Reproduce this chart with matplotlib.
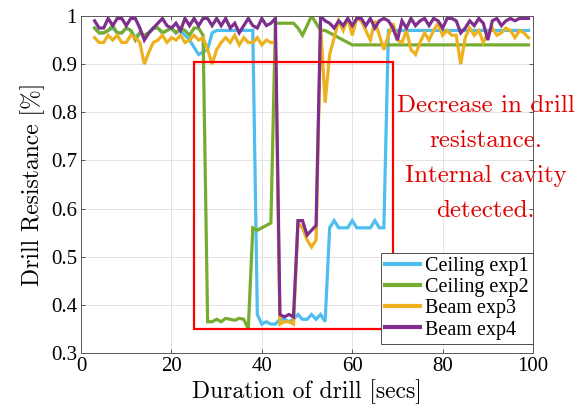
import matplotlib

matplotlib.use('Agg')

import matplotlib.pyplot as plt
import matplotlib.patches as patches
import numpy as np

# time axis, one sample per second
t_secs = np.arange(3, 100)

ceiling_exp1 = [
    0.975, 0.965, 0.965, 0.97, 0.975, 0.965, 0.965, 0.975, 0.97, 0.955,
    0.965, 0.96, 0.965, 0.975, 0.975, 0.965, 0.97, 0.975, 0.965, 0.97,
    0.96, 0.95, 0.935, 0.92, 0.925, 0.93, 0.965, 0.97, 0.97, 0.97,
    0.97, 0.97, 0.97, 0.97, 0.97, 0.97, 0.38, 0.36, 0.365, 0.36,
    0.36, 0.37, 0.37, 0.365, 0.37, 0.38, 0.37, 0.37, 0.38, 0.37,
    0.38, 0.365, 0.56, 0.575, 0.56, 0.56, 0.56, 0.575, 0.56, 0.56,
    0.56, 0.56, 0.575, 0.56, 0.56, 0.97, 0.97, 0.97, 0.97, 0.97,
    0.97, 0.97, 0.97, 0.97, 0.97, 0.97, 0.97, 0.97, 0.97, 0.97,
    0.97, 0.97, 0.97, 0.97, 0.97, 0.97, 0.97, 0.97, 0.97, 0.97,
    0.97, 0.97, 0.97, 0.97, 0.97, 0.97, 0.97,
]
ceiling_exp2 = [
    0.975, 0.965, 0.965, 0.97, 0.98, 0.965, 0.965, 0.975, 0.97, 0.95,
    0.965, 0.96, 0.965, 0.975, 0.975, 0.965, 0.97, 0.975, 0.965, 0.975,
    0.97, 0.96, 0.975, 0.975, 0.96, 0.365, 0.365, 0.37, 0.365, 0.372,
    0.37, 0.368, 0.372, 0.37, 0.35, 0.56, 0.555, 0.56, 0.565, 0.57,
    0.985, 0.985, 0.985, 0.985, 0.985, 0.975, 0.96, 0.98, 1.0, 0.985,
    0.97, 0.97, 0.965, 0.96, 0.955, 0.95, 0.945, 0.94, 0.94, 0.94,
    0.94, 0.94, 0.94, 0.94, 0.94, 0.94, 0.94, 0.94, 0.94, 0.94,
    0.94, 0.94, 0.94, 0.94, 0.94, 0.94, 0.94, 0.94, 0.94, 0.94,
    0.94, 0.94, 0.94, 0.94, 0.94, 0.94, 0.94, 0.94, 0.94, 0.94,
    0.94, 0.94, 0.94, 0.94, 0.94, 0.94, 0.94,
]
beam_exp3 = [
    0.955, 0.945, 0.945, 0.96, 0.95, 0.96, 0.945, 0.945, 0.96, 0.955,
    0.945, 0.90, 0.925, 0.945, 0.95, 0.96, 0.945, 0.955, 0.95, 0.96,
    0.945, 0.95, 0.96, 0.95, 0.955, 0.93, 0.90, 0.93, 0.945, 0.955,
    0.945, 0.96, 0.94, 0.955, 0.945, 0.945, 0.955, 0.94, 0.95, 0.945,
    0.945, 0.36, 0.365, 0.365, 0.36, 0.57, 0.56, 0.535, 0.52, 0.535,
    0.98, 0.82, 0.92, 0.955, 0.99, 0.97, 0.995, 0.96, 0.995, 0.99,
    0.97, 0.95, 0.99, 0.96, 0.93, 0.96, 0.985, 0.95, 0.945, 0.97,
    0.93, 0.92, 0.945, 0.965, 0.95, 0.97, 0.985, 0.96, 0.97, 0.96,
    0.96, 0.90, 0.955, 0.975, 0.96, 0.97, 0.945, 0.965, 0.975, 0.96,
    0.965, 0.975, 0.97, 0.955, 0.97, 0.965, 0.955,
]
beam_exp4 = [
    0.99, 0.975, 0.975, 0.995, 0.98, 0.995, 0.995, 0.98, 0.995, 0.995,
    0.975, 0.95, 0.965, 0.975, 0.985, 0.995, 0.98, 0.975, 0.985, 0.97,
    0.995, 0.98, 0.995, 0.98, 0.995, 0.995, 0.98, 0.995, 0.98, 0.995,
    0.975, 0.985, 0.965, 0.98, 0.995, 0.98, 0.975, 0.995, 0.98, 0.985,
    0.995, 0.38, 0.375, 0.38, 0.375, 0.575, 0.575, 0.545, 0.555, 0.565,
    1.0, 0.99, 0.985, 0.975, 0.99, 0.98, 0.995, 0.98, 0.995, 0.995,
    0.98, 0.995, 0.975, 0.99, 0.995, 0.99, 0.975, 0.95, 0.99, 0.975,
    0.995, 0.98, 0.99, 0.995, 0.98, 0.995, 0.99, 0.975, 0.995, 0.995,
    0.99, 0.965, 0.975, 0.99, 0.98, 0.995, 0.985, 0.95, 0.99, 0.995,
    0.98, 0.99, 0.995, 0.99, 0.995, 0.995, 0.995,
]

series_labels = ['Ceiling exp1', 'Ceiling exp2', 'Beam exp3', 'Beam exp4']
series_colors = ['#4DBEEE', '#77AC30', '#EDB120', '#7E2F8E']

# highlighted cavity region: x0, x1, y0, y1
cavity_x = [25, 69]
cavity_y = [0.35, 0.905]
note_lines = ['Decrease in drill', 'resistance.', 'Internal cavity', 'detected.']

x_ticks = [0, 20, 40, 60, 80, 100]
y_ticks = [0.3, 0.4, 0.5, 0.6, 0.7, 0.8, 0.9, 1.0]
y_tick_labels = ['0.3', '0.4', '0.5', '0.6', '0.7', '0.8', '0.9', '1']

TICK_FONT = ['Liberation Serif', 'DejaVu Serif']
CM_FONT = ['cmr10', 'DejaVu Serif']

fig = plt.figure(figsize=(5.79, 4.18), dpi=100)
ax = fig.add_axes([0.140, 0.1555, 0.7806, 0.8062])

all_series = [ceiling_exp1, ceiling_exp2, beam_exp3, beam_exp4]
for values, label, color in zip(all_series, series_labels, series_colors):
    ax.plot(t_secs, values, color=color, lw=2.3, label=label, solid_joinstyle='miter')

rect = patches.Rectangle((cavity_x[0], cavity_y[0]), cavity_x[1] - cavity_x[0],
                         cavity_y[1] - cavity_y[0], fill=False, edgecolor='#FF0000',
                         lw=1.6, zorder=5)
ax.add_patch(rect)

ax.text(89.5, 0.705, '\n'.join(note_lines), color='#E00000', ha='center', va='center',
        fontsize=18, family=CM_FONT, linespacing=1.75, zorder=6, clip_on=False)

ax.set_xlim(0, 100)
ax.set_ylim(0.3, 1.0)
ax.set_xticks(x_ticks)
ax.set_yticks(y_ticks)
ax.set_yticklabels(y_tick_labels)
for lab in ax.get_xticklabels() + ax.get_yticklabels():
    lab.set_family(TICK_FONT)
    lab.set_fontsize(15)
ax.tick_params(direction='in', top=True, right=True, length=3, width=0.6,
               color='0.25', pad=3)
ax.grid(True, color='#DEDEDE', lw=0.6)
ax.set_axisbelow(True)
for sp in ax.spines.values():
    sp.set_color('0.35')
    sp.set_linewidth(0.7)

ax.set_xlabel('Duration of drill [secs]', family=CM_FONT, fontsize=17, labelpad=2)
ax.set_ylabel('Drill Resistance [%]', family=CM_FONT, fontsize=17, labelpad=4)

leg = ax.legend(loc='lower right', bbox_to_anchor=(1.0, 0.028), borderaxespad=0,
                prop={'family': TICK_FONT, 'size': 14.5}, handlelength=1.75,
                handletextpad=0.25, labelspacing=0.1, borderpad=0.2, fancybox=False,
                framealpha=1.0)
leg.get_frame().set_edgecolor('0.3')
leg.get_frame().set_linewidth(0.7)
for line in leg.get_lines():
    line.set_linewidth(3)

fig.savefig('out.png', dpi=100)
